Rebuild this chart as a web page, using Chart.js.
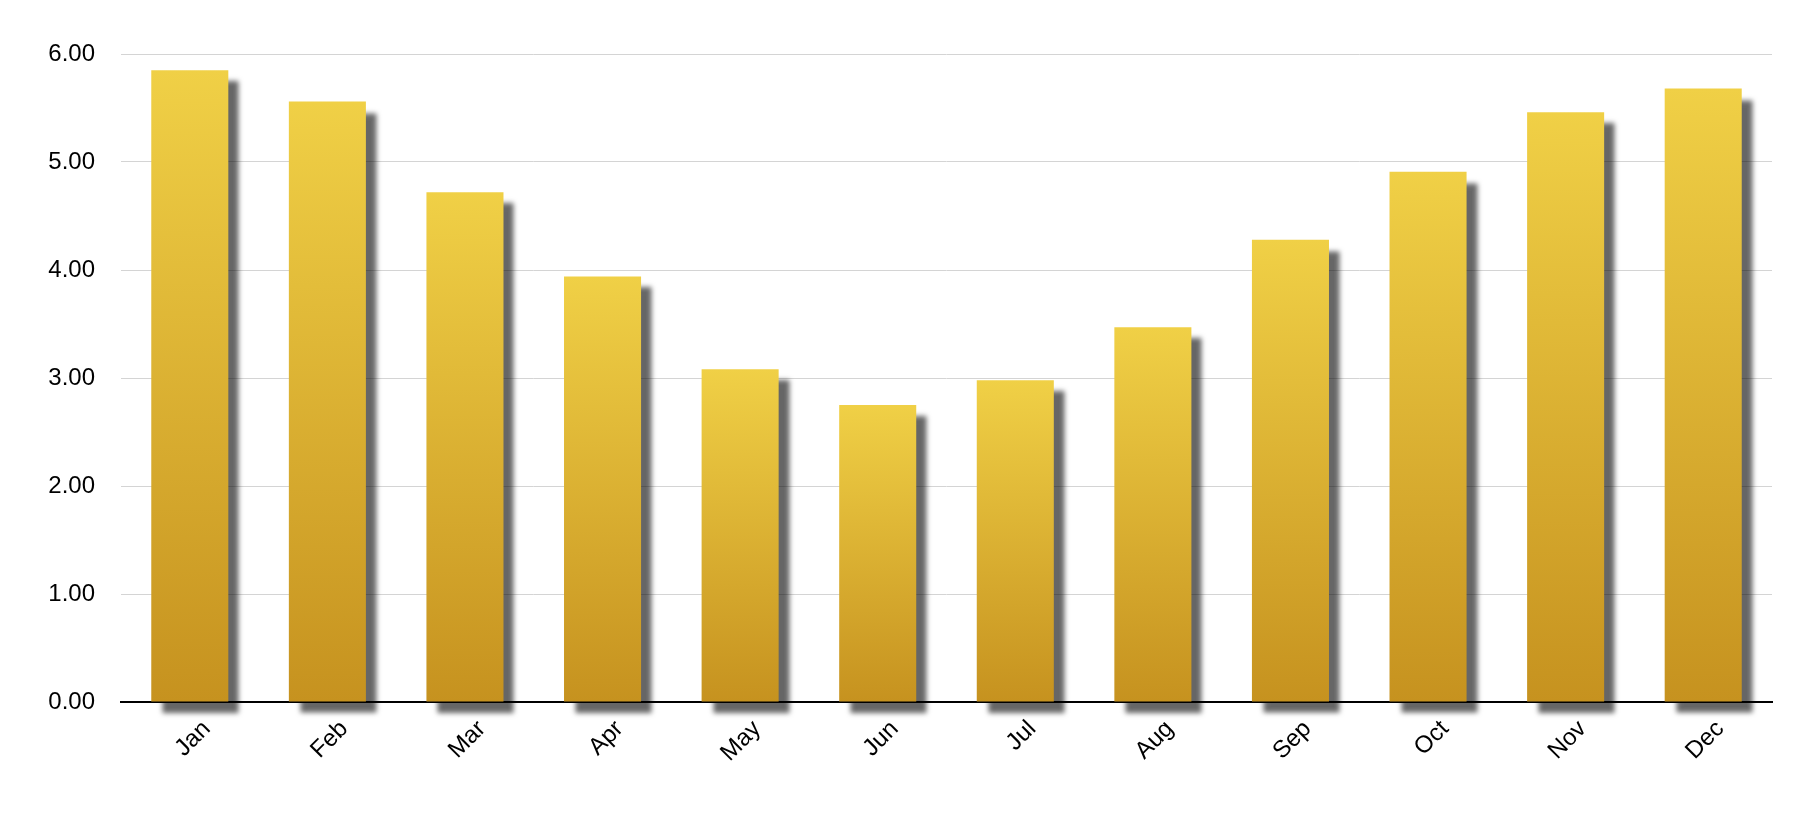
<!DOCTYPE html>
<html>
<head>
<meta charset="utf-8">
<script src="https://cdn.jsdelivr.net/npm/chart.js@4/dist/chart.umd.min.js"></script>
<style>
  body { margin: 0; background: #fff; }
  #wrap { width: 1812px; height: 814px; position: relative; }
</style>
</head>
<body>
<div id="wrap"><canvas id="chart"></canvas></div>
<script>
const months = ['Jan', 'Feb', 'Mar', 'Apr', 'May', 'Jun', 'Jul', 'Aug', 'Sep', 'Oct', 'Nov', 'Dec']
const values = [5.85, 5.56, 4.72, 3.94, 3.08, 2.75, 2.98, 3.47, 4.28, 4.91, 5.46, 5.68]
const yTicks = [0, 1, 2, 3, 4, 5, 6]

const TOP_COLOR = '#f0d046'
const BOTTOM_COLOR = '#c6921f'

// each bar gets its own light-to-dark gradient
function barGradient(context) {
    const chart = context.chart
    const y = chart.scales.y
    if (!chart.chartArea || !y || context.dataIndex === undefined) return TOP_COLOR
    const top = y.getPixelForValue(values[context.dataIndex])
    const bottom = y.getPixelForValue(0)
    const g = chart.ctx.createLinearGradient(0, top, 0, bottom)
    g.addColorStop(0, TOP_COLOR)
    g.addColorStop(1, BOTTOM_COLOR)
    return g
}

// drop shadow behind the bars (spills under the axis line too)
const barShadow = {
    id: 'barShadow',
    beforeDatasetsDraw(chart) {
        const ctx = chart.ctx
        ctx.save()
        ctx.shadowColor = 'rgba(0,0,0,0.6)'
        ctx.shadowOffsetX = 11
        ctx.shadowOffsetY = 11
        ctx.shadowBlur = 5
    },
    afterDatasetsDraw(chart) {
        chart.ctx.restore()
    }
}

Chart.defaults.font.family = '"Liberation Sans", Arial, sans-serif'
Chart.defaults.color = '#000'

const config = {
    type: 'bar',
    data: {
        labels: months,
        datasets: [{
            data: values,
            backgroundColor: barGradient,
            borderWidth: 0,
            categoryPercentage: 1,
            barPercentage: 0.56,
            clip: false
        }]
    },
    options: {
        responsive: true,
        maintainAspectRatio: false,
        animation: false,
        devicePixelRatio: 1,
        layout: {
            padding: { top: 54, right: 40, left: 0, bottom: 0 }
        },
        plugins: {
            legend: { display: false },
            tooltip: { enabled: false }
        },
        scales: {
            x: {
                z: 1,
                grid: { display: false, drawTicks: false },
                border: { display: true, color: '#000', width: 2 },
                ticks: {
                    font: { size: 24 },
                    maxRotation: 45,
                    minRotation: 45,
                    padding: 13,
                    labelOffset: 17
                },
                afterFit(scale) { scale.height = 112 }
            },
            y: {
                min: 0,
                max: 6,
                afterBuildTicks(scale) { scale.ticks = yTicks.map(v => ({ value: v })) },
                grid: { color: '#d4d4d4', lineWidth: 1, drawTicks: false },
                border: { display: false },
                ticks: {
                    font: { size: 24 },
                    padding: 26,
                    callback: v => Number(v).toFixed(2)
                },
                afterFit(scale) { scale.width = 121 }
            }
        }
    },
    plugins: [barShadow]
}

const mychart = new Chart(document.getElementById('chart'), config)
</script>
</body>
</html>
